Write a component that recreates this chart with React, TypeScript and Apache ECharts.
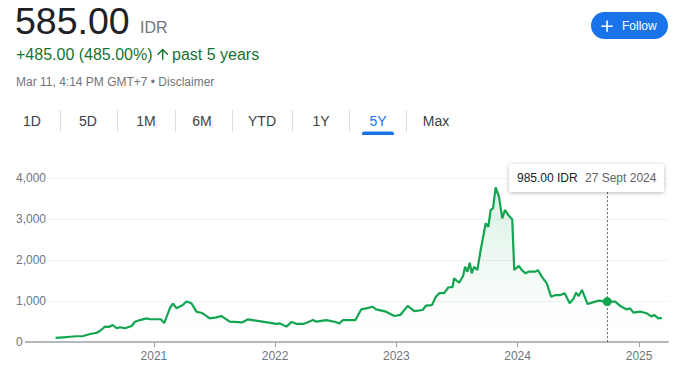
import React, { useEffect, useRef } from 'react';
import * as echarts from 'echarts';

// ---------- data ----------
const dates = [
  '2020-03-11','2020-04-03','2020-04-24','2020-05-14','2020-06-02','2020-06-23','2020-07-13','2020-07-23',
  '2020-08-07','2020-08-20','2020-08-30','2020-09-11','2020-09-21','2020-10-06','2020-10-26','2020-11-05',
  '2020-11-20','2020-12-10','2020-12-20','2021-01-09','2021-01-22','2021-02-01','2021-02-18','2021-02-27',
  '2021-03-10','2021-03-29','2021-04-09','2021-04-24','2021-05-09','2021-05-28','2021-06-18','2021-07-08',
  '2021-07-23','2021-08-17','2021-09-25','2021-10-10','2021-11-24','2022-01-05','2022-01-14','2022-02-04',
  '2022-02-20','2022-03-07','2022-03-26','2022-04-06','2022-04-25','2022-05-05','2022-06-04','2022-06-29',
  '2022-07-14','2022-07-24','2022-08-31','2022-09-17','2022-10-02','2022-10-22','2022-11-01','2022-12-01',
  '2022-12-26','2023-01-13','2023-02-04','2023-02-24','2023-03-21','2023-03-31','2023-04-18','2023-04-30',
  '2023-05-10','2023-05-25','2023-06-07','2023-06-19','2023-06-24','2023-07-09','2023-07-21','2023-07-27',
  '2023-08-03','2023-08-10','2023-08-16','2023-08-23','2023-09-02','2023-09-12','2023-09-27','2023-10-05',
  '2023-10-12','2023-10-19','2023-10-27','2023-11-06','2023-11-16','2023-11-24','2023-12-04','2023-12-16',
  '2023-12-22','2024-01-05','2024-01-14','2024-01-25','2024-02-03','2024-02-24','2024-03-02','2024-03-14',
  '2024-03-29','2024-04-11','2024-04-24','2024-05-09','2024-05-22','2024-06-06','2024-06-18','2024-06-25',
  '2024-07-03','2024-07-13','2024-07-30','2024-08-12','2024-09-01','2024-09-27','2024-10-21','2024-11-05',
  '2024-11-25','2024-12-05','2024-12-15','2025-01-04','2025-01-24','2025-02-08','2025-02-15','2025-02-28',
  '2025-03-11',
];
const prices = [
  100, 115, 128, 140, 145, 195, 225, 275,
  375, 370, 415, 335, 360, 335, 390, 495,
  535, 575, 555, 555, 555, 460, 820, 940,
  825, 900, 990, 945, 740, 700, 575, 600,
  635, 495, 480, 550, 495, 440, 455, 375,
  490, 440, 440, 470, 535, 495, 535, 495,
  455, 535, 535, 795, 820, 860, 795, 740,
  635, 660, 880, 755, 780, 885, 900, 1105,
  1190, 1190, 1335, 1335, 1555, 1445, 1610, 1835,
  1715, 1935, 1675, 1835, 1755, 2245, 2895, 2810,
  3220, 3260, 3770, 3545, 3015, 3220, 3100, 2990,
  1755, 1855, 1755, 1675, 1715, 1715, 1755, 1595,
  1430, 1105, 1145, 1145, 1190, 945, 1065, 1205,
  1120, 1270, 925, 960, 1010, 985, 985, 880,
  795, 820, 715, 740, 700, 620, 660, 575,
  585,
];
const yTicks = [0, 1000, 2000, 3000, 4000];
const rangeTabs = ['1D', '5D', '1M', '6M', 'YTD', '1Y', '5Y', 'Max'];
const activeTab = '5Y';
const lastPrice = 585.0;
const currency = 'IDR';
const change = 485.0;
const changePct = 485.0;
const periodLabel = 'past 5 years';
const timestampLabel = 'Mar 11, 4:14 PM GMT+7';
const hoverDate = '2024-09-27';
const hoverDateLabel = '27 Sept 2024';
const hoverValue = 985;

// ---------- layout / style ----------
const FONT = '"Liberation Sans", Arial, sans-serif';
const GREEN_LINE = '#12a550';
const GREEN_TEXT = '#137333';
const BLUE = '#1a73e8';
const AXIS_GREY = '#b5b9bd';
const tabX = [32, 88, 146, 202, 262, 321, 378, 436];
const sepX = [60, 117, 175, 232, 292, 349, 406];
const GRID_LEFT = 36;

let shapesRegistered = false;
function registerShapes() {
  if (shapesRegistered) return;
  shapesRegistered = true;
  echarts.graphic.registerShape(
    'arrowUp',
    echarts.graphic.extendPath('M4 12l1.41 1.41L11 7.83V20h2V7.83l5.58 5.59L20 12l-8-8-8 8z', {})
  );
  echarts.graphic.registerShape(
    'plusIcon',
    echarts.graphic.extendPath('M19 13h-6v6h-2v-6H5v-2h6V5h2v6h6v2z', {})
  );
}

const fmt = (n: number) => n.toLocaleString('en-US', { minimumFractionDigits: 2, maximumFractionDigits: 2 });

export default function App() {
  const ref = useRef<HTMLDivElement>(null);

  useEffect(() => {
    document.body.style.margin = '0';
    registerShapes();
    const chart = echarts.init(ref.current!, undefined, { renderer: 'svg' });

    const seriesData = dates.map((d, i) => [d, prices[i]]);

    const text = (t: string, x: number, y: number, size: number, fill: string, align = 'left', extra: any = {}) => ({
      type: 'text',
      x,
      y,
      silent: true,
      style: { text: t, fill, fontSize: size, fontFamily: FONT, align, verticalAlign: 'middle', ...extra },
    });

    const elements: any[] = [
      text(lastPrice.toFixed(2), 15, 21, 37.5, '#202124'),
      text(currency, 140, 27.5, 16, '#70757a'),
      text(`+${fmt(change)} (${fmt(changePct)}%)`, 16, 54.5, 16, GREEN_TEXT),
      {
        type: 'arrowUp',
        x: 154.3,
        y: 45.8,
        scaleX: 0.7,
        scaleY: 0.7,
        silent: true,
        style: { fill: GREEN_TEXT },
      },
      text(periodLabel, 172, 54.5, 16, GREEN_TEXT),
      text(`${timestampLabel} • Disclaimer`, 16, 82, 12, '#70757a'),
      // Follow button
      {
        type: 'rect',
        silent: true,
        shape: { x: 591, y: 12, width: 77, height: 27, r: 13.5 },
        style: { fill: BLUE },
      },
      {
        type: 'plusIcon',
        x: 597.5,
        y: 16.6,
        scaleX: 0.8,
        scaleY: 0.8,
        silent: true,
        style: { fill: '#ffffff' },
      },
      text('Follow', 622, 26, 12, '#ffffff'),
      // tabs
      ...rangeTabs.map((t, i) =>
        text(t, tabX[i], 121, 14, t === activeTab ? BLUE : '#3c4043', 'center')
      ),
      ...sepX.map((x) => ({
        type: 'line',
        silent: true,
        shape: { x1: x + 0.5, y1: 110, x2: x + 0.5, y2: 132 },
        style: { stroke: '#dadce0', lineWidth: 1 },
      })),
      {
        type: 'rect',
        silent: true,
        shape: { x: tabX[rangeTabs.indexOf(activeTab)] - 16, y: 131.5, width: 32, height: 3.5, r: [2, 2, 0, 0] },
        style: { fill: BLUE },
      },
      // axis line extension to the left of the plot
      {
        type: 'line',
        silent: true,
        shape: { x1: 25, y1: 342, x2: GRID_LEFT + 1, y2: 342 },
        style: { stroke: AXIS_GREY, lineWidth: 2 },
      },
      // tooltip box
      {
        type: 'rect',
        silent: true,
        z: 100,
        shape: { x: 509, y: 164, width: 155, height: 28, r: 3 },
        style: {
          fill: '#ffffff',
          shadowBlur: 4,
          shadowColor: 'rgba(0,0,0,0.28)',
          shadowOffsetY: 1,
        },
      },
      { ...text(`${fmt(hoverValue)} ${currency}`, 517, 178, 12, '#202124'), z: 101 },
      { ...text(hoverDateLabel, 585, 178, 12, '#5f6368'), z: 101 },
    ];

    chart.setOption({
      animation: false,
      backgroundColor: '#ffffff',
      grid: { left: GRID_LEFT, right: 12, top: 178, bottom: 27, containLabel: false },
      xAxis: {
        type: 'time',
        min: '2020-01-12',
        max: '2025-03-29',
        axisLine: { show: true, lineStyle: { color: AXIS_GREY, width: 2 } },
        axisTick: { show: true, length: 5, lineStyle: { color: '#9aa0a6', width: 1 } },
        axisLabel: {
          color: '#70757a',
          fontSize: 12,
          fontFamily: FONT,
          margin: 8,
          showMinLabel: false,
          showMaxLabel: false,
          formatter: (v: number) => String(new Date(v).getFullYear()),
        },
        splitLine: { show: false },
      },
      yAxis: {
        type: 'value',
        min: yTicks[0],
        max: yTicks[yTicks.length - 1],
        interval: yTicks[1] - yTicks[0],
        axisLine: { show: false },
        axisTick: { show: false },
        axisLabel: {
          color: '#70757a',
          fontSize: 12,
          fontFamily: FONT,
          align: 'left',
          margin: GRID_LEFT - 16,
          backgroundColor: '#ffffff',
          padding: [0, 2, 0, 0],
          formatter: (v: number) => v.toLocaleString('en-US'),
        },
        splitLine: { show: true, lineStyle: { color: '#f1f3f4', width: 1 } },
      },
      series: [
        {
          type: 'line',
          data: seriesData,
          showSymbol: false,
          silent: true,
          lineStyle: { color: GREEN_LINE, width: 2.2 },
          itemStyle: { color: GREEN_LINE },
          areaStyle: {
            color: new echarts.graphic.LinearGradient(0, 0, 0, 1, [
              { offset: 0, color: 'rgba(18,165,80,0.22)' },
              { offset: 0.75, color: 'rgba(18,165,80,0.03)' },
              { offset: 1, color: 'rgba(18,165,80,0)' },
            ]),
          },
          markLine: {
            silent: true,
            symbol: ['none', 'none'],
            label: { show: false },
            lineStyle: { color: '#5f6368', type: [2, 2], width: 1 },
            data: [[{ coord: [hoverDate, 3655] }, { coord: [hoverDate, 0] }]],
          },
          markPoint: {
            silent: true,
            symbol: 'circle',
            symbolSize: 9,
            label: { show: false },
            itemStyle: { color: GREEN_LINE },
            data: [{ coord: [hoverDate, hoverValue] }],
          },
        },
      ],
      graphic: { elements },
    });

    return () => chart.dispose();
  }, []);

  return <div ref={ref} style={{ width: 680, height: 369 }} />;
}
